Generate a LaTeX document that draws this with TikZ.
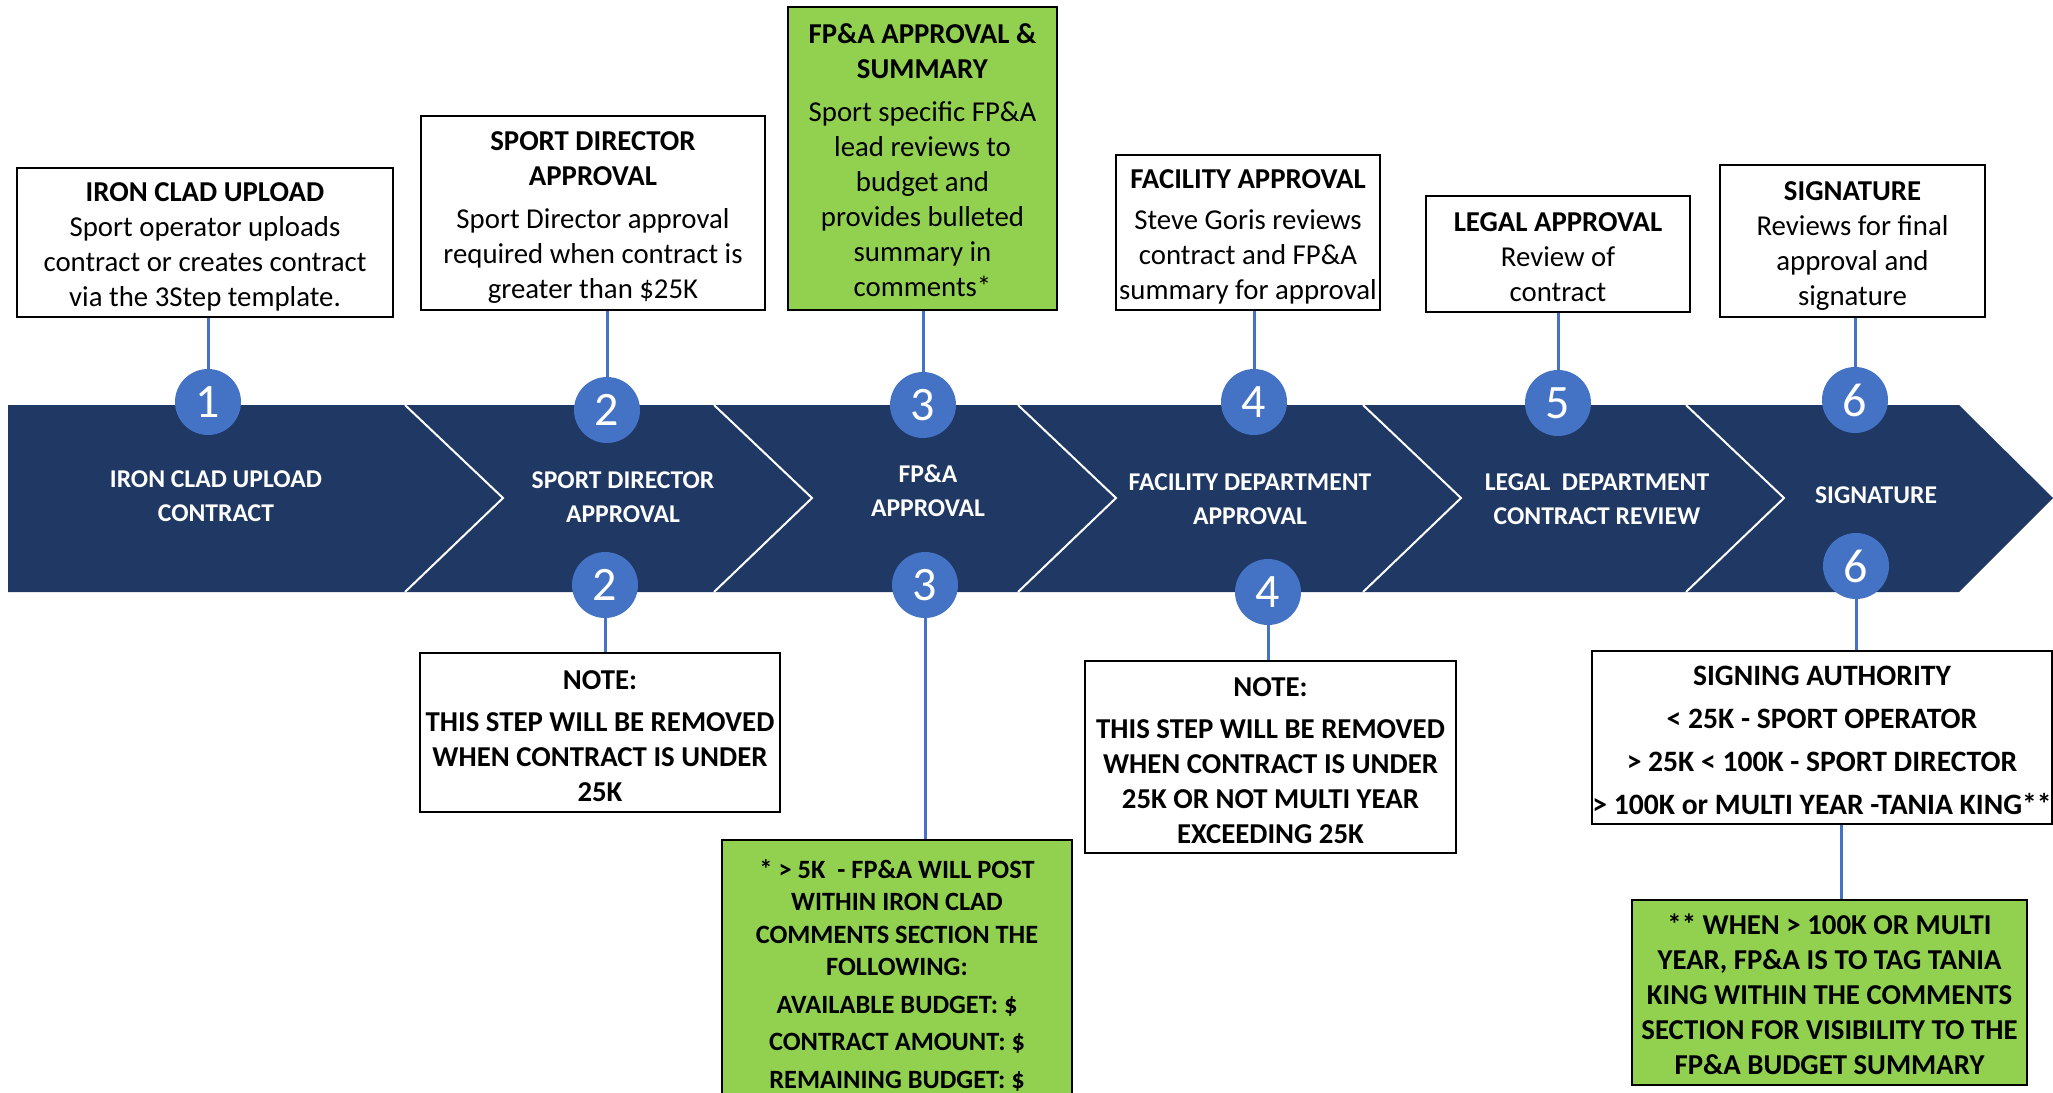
\documentclass[tikz,border=0pt]{standalone}
\usepackage{fontspec}
\setmainfont{Carlito}
\definecolor{bandblue}{HTML}{1F3864}
\definecolor{dotblue}{HTML}{4472C4}
\definecolor{notegreen}{HTML}{92D050}
\newcommand\boxfont{\fontsize{14.4}{17.5}\selectfont}
\newcommand\smallboxfont{\fontsize{13.2}{16.3}\selectfont}
\newcommand\bandfont{\fontsize{12.8}{17}\selectfont\bfseries}
\newcommand\numfont{\fontsize{24}{28}\selectfont}
\newcommand\lift[1]{\rule{0pt}{#1}}
\begin{document}
\begin{tikzpicture}[x=0.5pt, y=-0.5pt,
    box/.style={draw, line width=1.1pt, fill=white, align=center, inner sep=0pt, font=\boxfont},
    notebox/.style={box, font=\boxfont\bfseries},
    greenbox/.style={notebox, fill=notegreen},
    num/.style={circle, fill=dotblue, text=white, minimum size=33pt, inner sep=0pt, font=\numfont},
    lbl/.style={text=white, align=center, font=\bandfont},
    link/.style={draw=dotblue, line width=1.5pt}]
  \clip (0,0) rectangle (2053,1093);
  % arrow band
  \fill[bandblue] (8,405) -- (1959,405) -- (2053,498) -- (1959,592) -- (8,592) -- cycle;
  \foreach \x in {405,714,1018,1363,1686}
    \draw[white, line width=1pt] (\x,405) -- (\x+98,498) -- (\x,592);
  \node[lbl] (l1) at (216,496) {IRON CLAD UPLOAD\\CONTRACT};
  \node[lbl] (l2) at (623,497) {SPORT DIRECTOR\\APPROVAL};
  \node[lbl] (l3) at (928,491) {FP\&A\\APPROVAL};
  \node[lbl] (l4) at (1250,499) {FACILITY DEPARTMENT\\APPROVAL};
  \node[lbl] (l5) at (1597,499) {LEGAL\ \ DEPARTMENT\\CONTRACT REVIEW};
  \node[lbl] (l6) at (1876,495) {SIGNATURE};

  % step boxes above
  \node[box, minimum width=188pt, minimum height=74.5pt] (t1) at (205,242.5)
    {\lift{14.3pt}\textbf{IRON CLAD UPLOAD}\\Sport operator uploads\\contract or creates contract\\via the 3Step template.};
  \node[box, minimum width=172pt, minimum height=97pt] (t2) at (593,213)
    {\lift{14.3pt}\textbf{SPORT DIRECTOR}\\\textbf{APPROVAL}\\[4pt]Sport Director approval\\required when contract is\\greater than \$25K};
  \node[box, fill=notegreen, minimum width=134.5pt, minimum height=151.5pt] (t3) at (922.5,158.5)
    {\lift{11.5pt}\textbf{FP\&A APPROVAL \&}\\\textbf{SUMMARY}\\[4pt]Sport specific FP\&A\\lead reviews to\\budget and\\provides bulleted\\summary in\\comments*};
  \node[box, minimum width=132pt, minimum height=77.5pt] (t4) at (1248,232.5)
    {\lift{14.3pt}\textbf{FACILITY APPROVAL}\\[3pt]Steve Goris reviews\\contract and FP\&A\\summary for approval};
  \node[box, minimum width=132pt, minimum height=58pt] (t5) at (1558,254)
    {\lift{13pt}\textbf{LEGAL APPROVAL}\\Review of\\contract};
  \node[box, minimum width=132.5pt, minimum height=76pt] (t6) at (1852.5,241)
    {\lift{14.3pt}\textbf{SIGNATURE}\\Reviews for final\\approval and\\signature};

  % notes below
  \node[notebox, minimum width=180pt, minimum height=79.5pt] (n2) at (600,732.5)
    {\lift{12.7pt}NOTE:\\[3.5pt]THIS STEP WILL BE REMOVED\\WHEN CONTRACT IS UNDER\\25K};
  \node[greenbox, font=\smallboxfont\bfseries, minimum width=175pt, minimum height=135pt] (n3) at (897,975)
    {* > 5K\ \ - FP\&A WILL POST\\WITHIN IRON CLAD\\COMMENTS SECTION THE\\FOLLOWING:\\[2.4pt]AVAILABLE BUDGET: \$\\[2.4pt]CONTRACT AMOUNT: \$\\[2.4pt]REMAINING BUDGET: \$};
  \node[notebox, minimum width=185.5pt, minimum height=96pt] (n4) at (1270.5,757)
    {\lift{12.7pt}NOTE:\\[3.5pt]THIS STEP WILL BE REMOVED\\WHEN CONTRACT IS UNDER\\25K OR NOT MULTI YEAR\\EXCEEDING 25K};
  \node[notebox, font=\fontsize{14.8}{17.5}\selectfont\bfseries, minimum width=230pt, minimum height=86.5pt] (n6) at (1822,737.5)
    {\lift{12.7pt}SIGNING AUTHORITY\\[4pt]< 25K - SPORT OPERATOR\\[4pt]> 25K < 100K - SPORT DIRECTOR\\[4pt]\makebox[0pt]{> 100K or MULTI YEAR -TANIA KING**}};
  \node[greenbox, minimum width=197.5pt, minimum height=92.5pt] (n6g) at (1829.5,992.5)
    {\lift{12.2pt}** WHEN > 100K OR MULTI\\YEAR, FP\&A IS TO TAG TANIA\\KING WITHIN THE COMMENTS\\SECTION FOR VISIBILITY TO THE\\FP\&A BUDGET SUMMARY};

  % numbered dots
  \node[num] (c1) at (208,402) {1};
  \node[num] (c2) at (607,410) {2};
  \node[num] (c3) at (923,405) {3};
  \node[num] (c4) at (1254,402) {4};
  \node[num] (c5) at (1558,403) {5};
  \node[num] (c6) at (1855,400) {6};
  \node[num] (b2) at (605,585) {2};
  \node[num] (b3) at (925,585) {3};
  \node[num] (b4) at (1268,592) {4};
  \node[num] (b6) at (1856,566) {6};

  % connectors
  \foreach \i in {1,...,6}
    \draw[link] (c\i.north) -- (c\i.north |- t\i.south);
  \foreach \i in {2,3,4,6}
    \draw[link] (b\i.south) -- (b\i.south |- n\i.north);
  \draw[link] ([xshift=5.75pt]n6g.north) -- ([xshift=5.75pt]n6g.north |- n6.south);
\end{tikzpicture}
\end{document}
